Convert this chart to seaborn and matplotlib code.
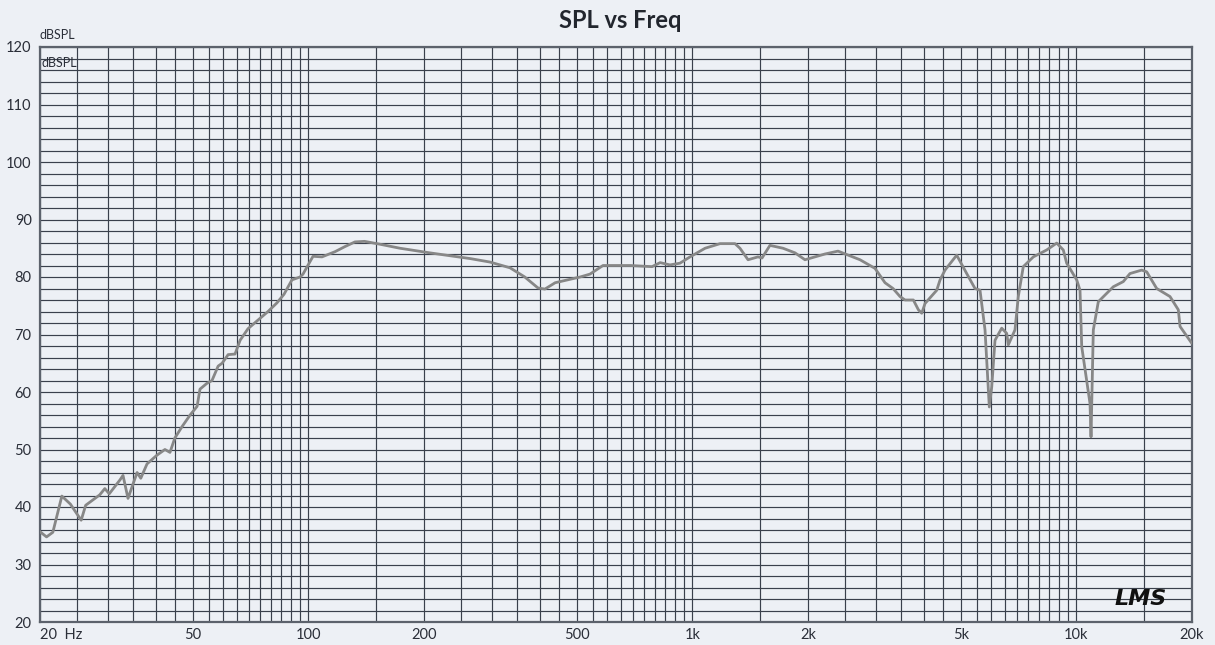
import numpy as np
import pandas as pd
import matplotlib
matplotlib.use("Agg")
import matplotlib.pyplot as plt
from matplotlib.ticker import LogLocator, MultipleLocator, NullFormatter
import seaborn as sns

# Frequency response
freq = [20, 20.8, 21.6, 22.8, 24.0, 25.6, 26.3, 28.6, 29.5, 30.3, 32.3, 32.9, 33.9,
        35.8, 36.6, 38.0, 40.3, 42.3, 43.6, 44.9, 46.9, 49.2, 51.3, 52.2, 54.4,
        56.1, 58.2, 59.6, 61.8, 64.4, 66.4, 69.6, 73.9, 78.5, 82.8, 86.4, 90.6,
        95.1, 96.8, 102.8, 108.5, 117.3, 124.6, 132.2, 140, 153.6, 173.2, 207,
        264, 297, 335, 366, 396, 413, 439, 480, 510, 541, 585, 688, 785, 824,
        874, 928, 986, 1079, 1180, 1291, 1330, 1396, 1482, 1518, 1592, 1722,
        1850, 1964, 2214, 2394, 2732, 2989, 3174, 3330, 3473, 3578, 3762, 3877,
        3956, 4035, 4328, 4415, 4548, 4878, 5180, 5444, 5610, 5781, 5932, 6019,
        6138, 6389, 6583, 6648, 6919, 7058, 7272, 7724, 8368, 8886, 9244, 9434,
        10018, 10218, 10324, 10850, 10916, 11068, 11404, 12476, 13246, 13788,
        14792, 15242, 16184, 17528, 18424, 18616, 19960]
spl = [35.7, 34.8, 35.6, 41.9, 40.5, 37.7, 40.3, 42.1, 43.2, 42.3, 44.7, 45.5, 41.5,
       46.0, 45.0, 47.5, 49.0, 50.0, 49.5, 52.0, 54.0, 56.0, 57.5, 60.5, 61.5,
       62.0, 64.5, 65.0, 66.5, 66.6, 69.0, 71.0, 72.5, 74.0, 75.5, 77.0, 79.5,
       80.0, 80.5, 83.6, 83.5, 84.4, 85.3, 86.1, 86.2, 85.7, 85.0, 84.2,
       83.2, 82.6, 81.6, 80.0, 78.1, 77.9, 79.0, 79.6, 80.0, 80.5, 82.0, 82.0, 81.8, 82.5,
       82.1, 82.4, 83.5, 85.0, 85.8, 85.8, 85.0, 83.0, 83.5, 83.3, 85.5, 85.0,
       84.2, 83.0, 84.0, 84.5, 83.0, 81.5, 79.0, 78.0, 76.6, 76.0, 76.0, 74.3,
       73.7, 75.4, 77.7, 79.5, 81.2, 83.8, 80.6, 78.0, 77.7, 70.8, 57.4, 60.9,
       69.0, 71.1, 70.2, 68.2, 70.8, 76.6, 81.8, 83.5, 84.7, 85.9, 84.7, 82.4,
       79.5, 77.7, 67.9, 58.0, 52.2, 70.8, 75.7, 78.3, 79.2, 80.6,
       81.2, 80.9, 78.0, 76.6, 74.3, 71.4, 68.5]

x_ticks = [20, 50, 100, 200, 500, 1000, 2000, 5000, 10000, 20000]
x_labels = ['20  Hz', '50', '100', '200', '500', '1k', '2k', '5k', '10k', '20k']
y_ticks = list(range(20, 121, 10))

bg = '#edf0f5'
grid_col = '#3a404c'

sns.set_theme(style='white')
plt.rcParams['font.family'] = ['Lato', 'DejaVu Sans']

df = pd.DataFrame({'freq': freq, 'spl': spl})

fig = plt.figure(figsize=(12.15, 6.45), dpi=100, facecolor=bg)
ax = fig.add_axes([40 / 1215, 1 - 622 / 645, 1152 / 1215, 575 / 645])
ax.set_facecolor(bg)

sns.lineplot(data=df, x='freq', y='spl', ax=ax, color='#878787', linewidth=2.0,
             zorder=5, sort=False)

ax.set_xscale('log')
ax.set_xlim(20, 20000)
ax.set_ylim(20, 120)

# grid: 1, 1.5, 2 ... 9.5 per decade, 2 dB steps
ax.set_xticks(x_ticks)
ax.set_xticklabels(x_labels)
ax.xaxis.set_minor_locator(LogLocator(base=10, subs=np.arange(1.0, 10.0, 0.5), numticks=20))
ax.xaxis.set_minor_formatter(NullFormatter())
ax.set_yticks(y_ticks)
ax.yaxis.set_minor_locator(MultipleLocator(2))
ax.grid(True, which='both', color=grid_col, linewidth=0.85)

ax.tick_params(which='both', length=0, labelsize=10.5, colors='#2a2e38')
ax.tick_params(axis='x', pad=4)
ax.tick_params(axis='y', pad=6)
ax.get_xticklabels()[0].set_horizontalalignment('left')

for s in ax.spines.values():
    s.set_color('#5c626c')
    s.set_linewidth(1.6)

ax.set_xlabel('')
ax.set_ylabel('')

# titles and labels
fig.text(620 / 1215, 1 - 21 / 645, 'SPL vs Freq', ha='center', va='center',
         fontsize=17, fontweight='bold', color='#22262e')
fig.text(40 / 1215, 1 - 35 / 645, 'dBSPL', ha='left', va='center', fontsize=9,
         color='#2a2e38')
ax.text(0.001, 0.972, 'dBSPL', transform=ax.transAxes, ha='left', va='center',
        fontsize=9, color='#2a2e38', zorder=6)
ax.text(0.955, 0.04, 'LMS', transform=ax.transAxes, ha='center', va='center',
        fontsize=16, fontstyle='italic', fontweight='bold', color='#111111', zorder=6,
        family=['DejaVu Sans'])

fig.savefig('out.png', dpi=100, facecolor=bg)
